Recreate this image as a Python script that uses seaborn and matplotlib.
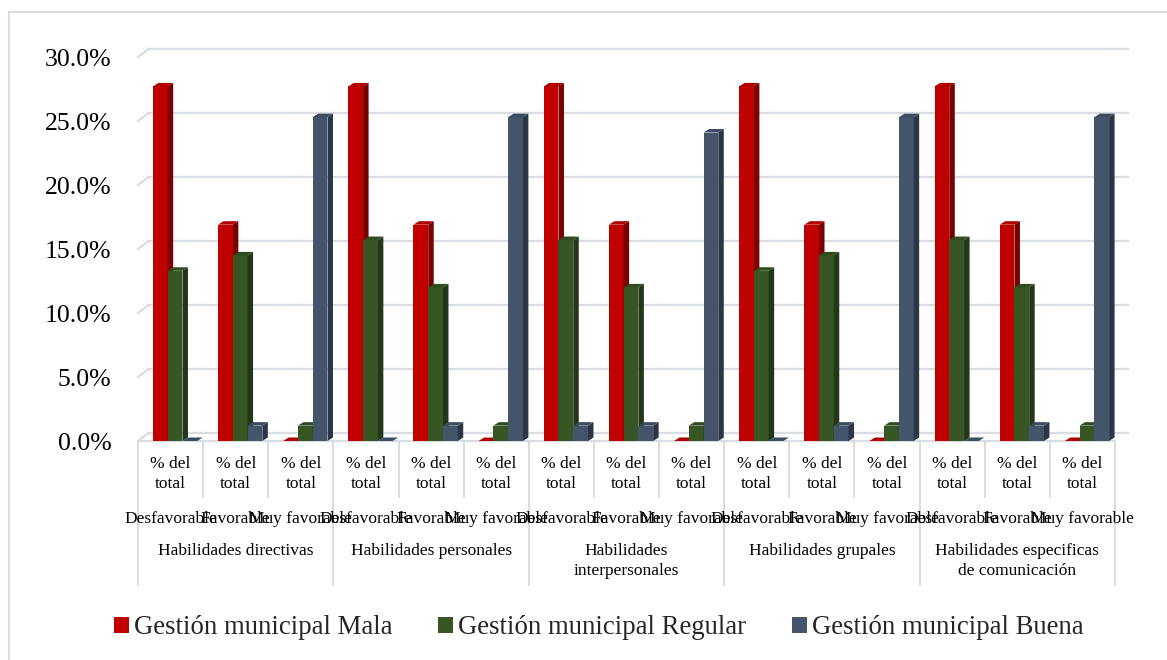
import numpy as np
import pandas as pd
import matplotlib
matplotlib.use("Agg")
import matplotlib.pyplot as plt
from matplotlib.patches import Polygon, Patch
from matplotlib.lines import Line2D
import seaborn as sns

# ---- data (percent of total) ----
skills = ["Habilidades directivas", "Habilidades personales",
          "Habilidades\ninterpersonales", "Habilidades grupales",
          "Habilidades especificas\nde comunicación"]
levels = ["Desfavorable", "Favorable", "Muy favorable"]
series = ["Gestión municipal Mala", "Gestión municipal Regular", "Gestión municipal Buena"]
measure_label = "% del\ntotal"

# one value per (skill, level) column, in column order
mala = [27.7, 16.9, 0.0,  27.7, 16.9, 0.0,  27.7, 16.9, 0.0,  27.7, 16.9, 0.0,  27.7, 16.9, 0.0]
regular = [13.3, 14.5, 1.2,  15.7, 12.0, 1.2,  15.7, 12.0, 1.2,  13.3, 14.5, 1.2,  15.7, 12.0, 1.2]
buena = [0.0, 1.2, 25.3,  0.0, 1.2, 25.3,  1.2, 1.2, 24.1,  0.0, 1.2, 25.3,  0.0, 1.2, 25.3]

yticks = [0, 5, 10, 15, 20, 25, 30]

front_colors = {"Gestión municipal Mala": "#C00000",
                "Gestión municipal Regular": "#375623",
                "Gestión municipal Buena": "#44546A"}
side_colors = ["#7A0000", "#22361A", "#2B3646"]
top_colors = ["#B00000", "#314D1F", "#3D4C60"]
grid_color = "#D9DCE3"

n_cols = len(mala)
df = pd.DataFrame({
    "col": np.tile(np.arange(n_cols), 3),
    "serie": np.repeat(series, n_cols),
    "valor": mala + regular + buena,
})

sns.set_theme(style="white")
plt.rcParams["font.family"] = ["Liberation Serif", "DejaVu Serif"]

W, H = 1167, 660
fig = plt.figure(figsize=(W / 100, H / 100), dpi=100)

# plot area in pixel terms (front plane)
x0, x1 = 138, 1115
y_base, y_top = 441, 57
ax = fig.add_axes([x0 / W, (H - y_base) / H, (x1 - x0) / W, (y_base - y_top) / H])

sns.barplot(data=df, x="col", y="valor", hue="serie", hue_order=series,
            palette=front_colors, width=0.68, gap=0, saturation=1,
            legend=False, ax=ax, zorder=3)

ax.set_xlim(-0.5, n_cols - 0.5)
ax.set_ylim(0, 30)
for s in ax.spines.values():
    s.set_visible(False)
ax.set_xticks([])
ax.set_xlabel("")
ax.set_ylabel("")
ax.set_yticks(yticks)
ax.set_yticklabels([f"{v:.1f}%" for v in yticks], fontsize=18.5, color="#000000")
ax.tick_params(axis="y", length=0, pad=19)
ax.grid(False)

# pixel -> data conversions
px_x = (x1 - x0) / n_cols          # pixels per category
px_y = (y_base - y_top) / 30.0     # pixels per percent

def dxd(p):
    return p / px_x

def dyd(p):
    return p / px_y

# back wall gridlines with a slanted floor edge on the left
gdx, gdy = 11, 8.5
for v in yticks:
    ax.plot([-0.5 + dxd(gdx), n_cols - 0.5 + dxd(gdx + 3)], [v + dyd(gdy)] * 2,
            color=grid_color, lw=1.6, zorder=1, clip_on=False, solid_capstyle="butt")
    ax.plot([-0.5, -0.5 + dxd(gdx)], [v, v + dyd(gdy)],
            color=grid_color, lw=1.6, zorder=1, clip_on=False)
# front edge of the floor
ax.plot([-0.5, n_cols - 0.5], [0, 0], color=grid_color, lw=1.6, zorder=1, clip_on=False)

# pseudo-3D faces on every bar; the bar block sits slightly right of centre
bdx, bdy = dxd(5.5), dyd(3.5)
shift = dxd(4.5)
for i, cont in enumerate(ax.containers):
    base_z = 3 + i * 0.3
    for bar in cont:
        bar.set_x(bar.get_x() + shift)
        bar.set_zorder(base_z)
        bar.set_edgecolor("none")
        bx, bw, bh = bar.get_x(), bar.get_width(), bar.get_height()
        side = Polygon([(bx + bw, 0), (bx + bw, bh), (bx + bw + bdx, bh + bdy), (bx + bw + bdx, bdy)],
                       closed=True, facecolor=side_colors[i], edgecolor="none",
                       zorder=base_z + 0.1, clip_on=False)
        top = Polygon([(bx, bh), (bx + bw, bh), (bx + bw + bdx, bh + bdy), (bx + bdx, bh + bdy)],
                      closed=True, facecolor=top_colors[i], edgecolor="none",
                      zorder=base_z + 0.1, clip_on=False)
        ax.add_patch(side)
        ax.add_patch(top)

# multi-level category axis
xt = ax.get_xaxis_transform()

def yfrac(ypx):
    return (y_base - ypx) / (y_base - y_top)

for c in range(n_cols + 1):
    edge = c - 0.5
    bottom = 585 if c % 3 == 0 else 497
    ax.plot([edge, edge], [yfrac(y_base), yfrac(bottom)], transform=xt,
            color=grid_color, lw=1.4, clip_on=False, zorder=1)

for c in range(n_cols):
    ax.text(c, yfrac(474), measure_label, transform=xt, ha="center", va="center",
            fontsize=12.5, linespacing=1.25, color="#000000")
    ax.text(c, yfrac(519), levels[c % 3], transform=xt, ha="center", va="center",
            fontsize=12.5, color="#000000")

for g, name in enumerate(skills):
    ax.text(g * 3 + 1, yfrac(543), name, transform=xt, ha="center", va="top",
            fontsize=12.5, linespacing=1.3, color="#000000")

# outer chart frame (left and top edges)
fig.add_artist(Line2D([8.5 / W, 8.5 / W], [0, (H - 12) / H], color=grid_color, lw=1.5))
fig.add_artist(Line2D([8.5 / W, 1], [(H - 12) / H, (H - 12) / H], color=grid_color, lw=1.5))

handles = [Patch(facecolor=front_colors[s], edgecolor="none", label=s) for s in series]
fig.legend(handles=handles, loc="center", bbox_to_anchor=(599 / W, (H - 628) / H),
           ncol=3, frameon=False, fontsize=19.3, handlelength=0.55, handleheight=0.55,
           handletextpad=0.2, columnspacing=1.7, borderaxespad=0)

fig.savefig("out.png", dpi=100, facecolor="white")
